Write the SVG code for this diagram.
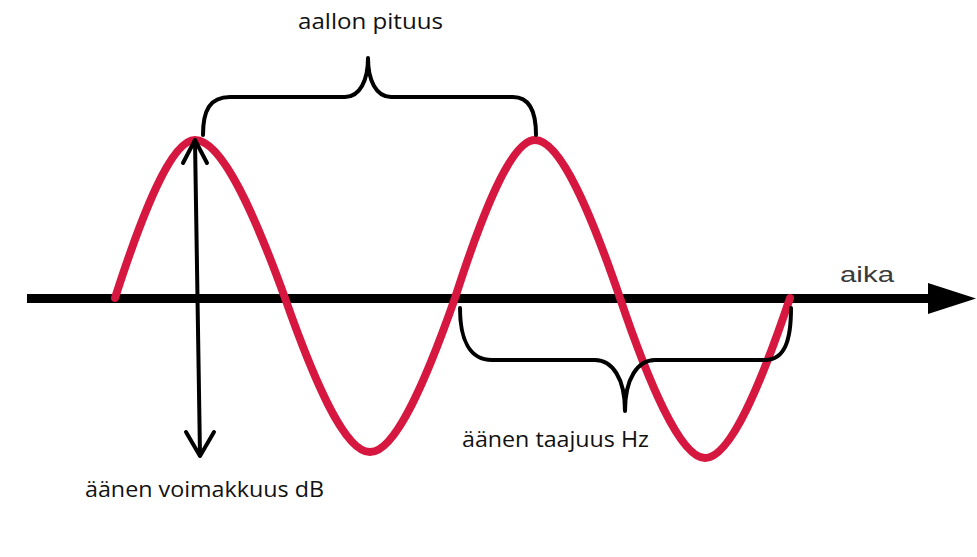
<svg xmlns="http://www.w3.org/2000/svg" width="977" height="557" viewBox="0 0 977 557">
<style>
.lbl{font-family:"Open Sans","Noto Sans","Liberation Sans",sans-serif;font-size:22px;fill:#111}
.ink{fill:none;stroke:#000;stroke-width:4;stroke-linecap:round;stroke-linejoin:round}
.wave{fill:none;stroke:#d6173f;stroke-width:8;stroke-linecap:round}
</style>
<rect width="977" height="557" fill="#fff"/>
<g id="axis">
<line x1="27" y1="298.5" x2="932" y2="298.5" stroke="#000" stroke-width="9"/>
<path d="M928,283 L976,298.5 L928,314 Z" fill="#000"/>
<text x="840" y="282" style="font-family:'Liberation Sans',Arial,sans-serif;font-size:22px;fill:#3a3a3a" textLength="54" lengthAdjust="spacingAndGlyphs">aika</text>
</g>
<g id="wave">
<path class="wave" d="M115,298 C141.1,217.1 170.6,140 195,140 C222.5,140 255.7,217.1 285,298 C312.7,376.9 344,452 370,452 C396,452 427.3,376.9 455,298 C481.1,217.1 510.6,140 535,140 C561,140 592.3,217.1 620,298 C647.7,380 680,458 705,458 C731,458 762.3,380 790,298"/>
</g>
<g id="connectors">
<g id="amplitude-arrow">
<line class="ink" x1="195" y1="141" x2="200" y2="455"/>
<path class="ink" d="M183,163 L195,140 L207,163"/>
<path class="ink" d="M186,432 L200,456 L214,432"/>
</g>
<g id="wavelength-brace">
<path class="ink" d="M203,135 C203,110 210,97 230,97 L345,97 C360,97 368,80 368,58 C368,80 376,97 391,97 L513,97 C528,97 536,110 536,135"/>
</g>
<g id="frequency-brace">
<path class="ink" d="M460,308 C460,340 470,360 492,360 L595,360 C612,360 625,378 625,411 C625,378 638,360 655,360 L765,360 C785,360 791,340 791,308"/>
</g>
</g>
<g id="label-wavelength"><text class="lbl" x="298" y="29" textLength="145" lengthAdjust="spacingAndGlyphs">aallon pituus</text></g>
<g id="label-frequency"><text class="lbl" x="462" y="447" textLength="187" lengthAdjust="spacingAndGlyphs">äänen taajuus Hz</text></g>
<g id="label-amplitude"><text class="lbl" x="85" y="497" textLength="239" lengthAdjust="spacingAndGlyphs">äänen voimakkuus dB</text></g>
</svg>
